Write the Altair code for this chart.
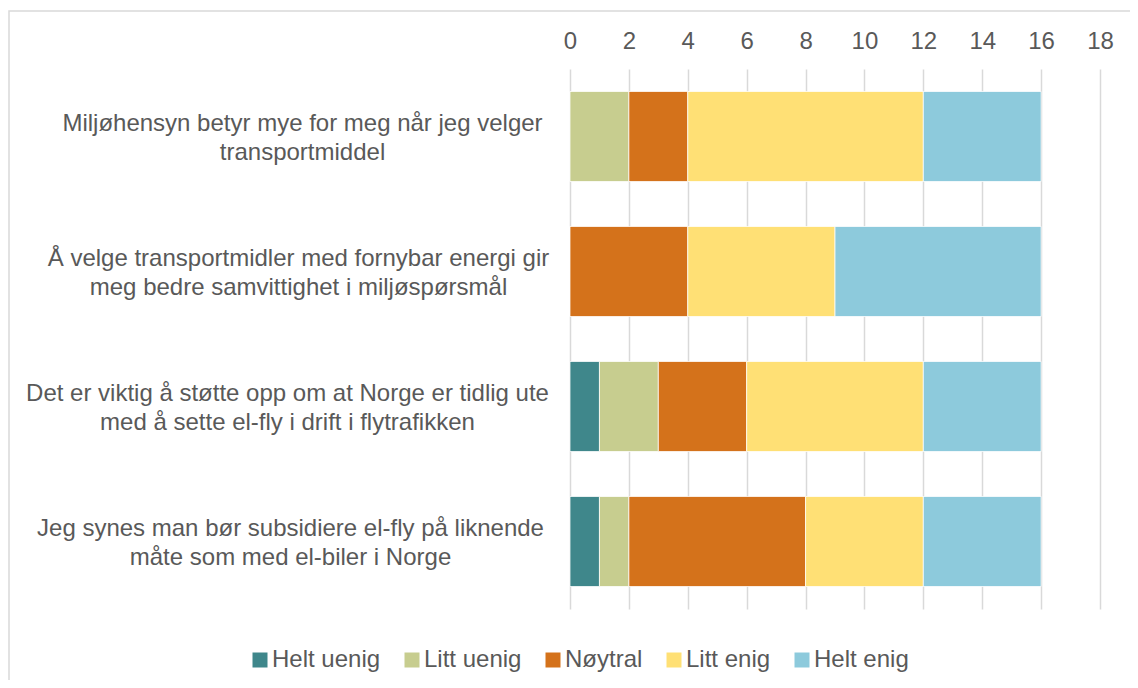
import altair as alt
import pandas as pd

# ---- data ----
statements = [
    "Miljøhensyn betyr mye for meg når jeg velger|transportmiddel",
    "Å velge transportmidler med fornybar energi gir|meg bedre samvittighet i miljøspørsmål",
    "Det er viktig å støtte opp om at Norge er tidlig ute|med å sette el-fly i drift i flytrafikken",
    "Jeg synes man bør subsidiere el-fly på liknende|måte som med el-biler i Norge",
]
responses = ["Helt uenig", "Litt uenig", "Nøytral", "Litt enig", "Helt enig"]
helt_uenig = [0, 0, 1, 1]
litt_uenig = [2, 0, 2, 1]
noytral = [2, 4, 3, 6]
litt_enig = [8, 5, 6, 4]
helt_enig = [4, 7, 4, 4]
colors = ["#3F878B", "#C7CD8F", "#D4721B", "#FFE075", "#8DCADC"]
x_ticks = [0, 2, 4, 6, 8, 10, 12, 14, 16, 18]

series = [helt_uenig, litt_uenig, noytral, litt_enig, helt_enig]
rows = []
for ri, (resp, vals) in enumerate(zip(responses, series)):
    for s, v in zip(statements, vals):
        rows.append({"statement": s, "svar": resp, "antall": v, "idx": ri})
df = pd.DataFrame(rows)

FONT = "Liberation Sans"
GREY = "#595959"

# per-label padding so that each wrapped label block is centred like the original
label_padding = {
    "condition": [
        {"test": "indexof(datum.value, 'Miljøhensyn') === 0", "value": 268},
        {"test": "indexof(datum.value, 'velge transportmidler') >= 0", "value": 272},
        {"test": "indexof(datum.value, 'Det er viktig') === 0", "value": 283},
    ],
    "value": 280,
}

bars = alt.Chart(df).mark_bar(stroke="white", strokeWidth=0.75).encode(
    x=alt.X(
        "antall:Q",
        stack="zero",
        scale=alt.Scale(domain=[0, 18], nice=False),
        axis=alt.Axis(
            orient="top", values=x_ticks, grid=True, gridColor="#D9D9D9",
            gridWidth=1.5, domain=False, ticks=False, labelFontSize=24,
            labelColor=GREY, labelFont=FONT, labelPadding=16, title=None,
            labelFlush=False,
        ),
    ),
    y=alt.Y(
        "statement:N",
        sort=statements,
        scale=alt.Scale(paddingInner=1 / 3, paddingOuter=1 / 6),
        axis=alt.Axis(
            title=None, domain=False, ticks=False, grid=False,
            labelExpr="split(datum.label, '|')", labelAlign="center",
            labelBaseline="middle", labelPadding=label_padding,
            labelOffset=-13, labelFontSize=24,
            labelLineHeight=29, labelLimit=0, labelColor=GREY, labelFont=FONT,
        ),
    ),
    color=alt.Color(
        "svar:N",
        scale=alt.Scale(domain=responses, range=colors),
        legend=alt.Legend(
            title=None, orient="none", legendX=-322, legendY=579,
            direction="horizontal", symbolType="square", symbolSize=225,
            symbolStrokeWidth=0, labelFontSize=24, labelColor=GREY,
            labelFont=FONT, labelOffset=0, columnPadding=19, labelLimit=0,
        ),
    ),
    order=alt.Order("idx:Q"),
)

frame = alt.Chart(pd.DataFrame({"a": [0]})).mark_rect(
    fill="transparent", stroke="#D9D9D9", strokeWidth=1.5
).encode(
    x=alt.value(-561), x2=alt.value(620),
    y=alt.value(-58), y2=alt.value(660),
)

chart = alt.layer(frame, bars).properties(
    width=530,
    height=540,
    autosize=alt.AutoSizeParams(type="none"),
    padding={"left": 562, "top": 61, "right": 30, "bottom": 71},
    background="white",
).configure_view(stroke=None)

chart.save("out.html", embed_options={"renderer": "svg", "actions": False})
